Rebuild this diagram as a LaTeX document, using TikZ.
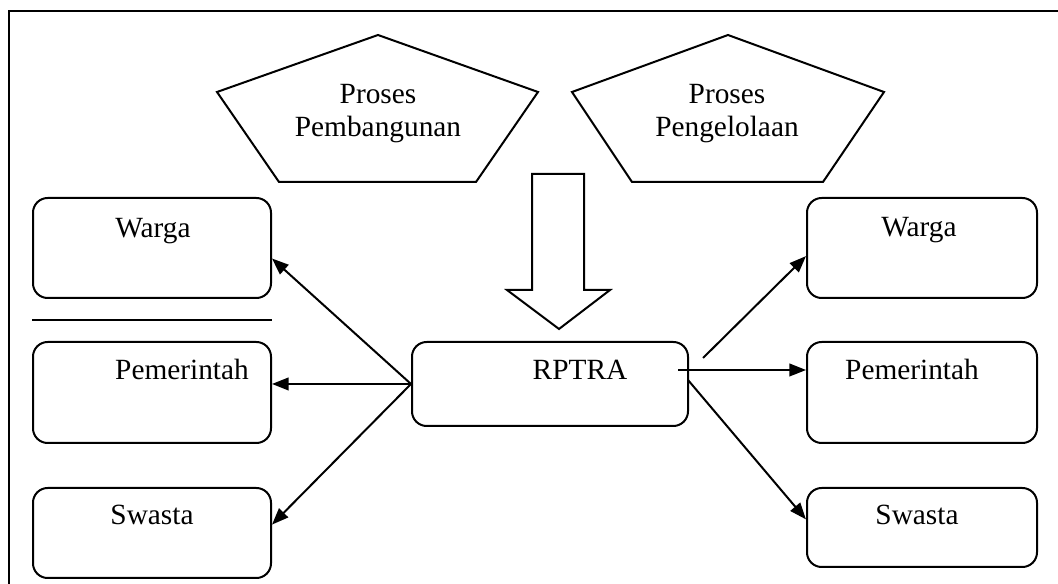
\documentclass[tikz,border=0pt]{standalone}
\usepackage{fontspec}
\setmainfont{Liberation Serif}
\usetikzlibrary{arrows.meta,positioning}
\newcommand{\lw}{1.5pt}
\newcommand{\txtsize}{\fontsize{22}{24.75}\selectfont}

\begin{document}
\begin{tikzpicture}[x = 0.75pt, y = -0.75pt,
    box/.style 2 args = {draw, line width = \lw, rounded corners = 11pt,
        minimum width = #1, minimum height = #2, inner sep = 0pt},
    lbl/.style = {font = \txtsize, inner sep = 0pt, anchor = base},
    link/.style = {line width = \lw, -{Triangle[length = 12.5pt, width = 9.5pt]}}]

    \useasboundingbox (0,0) rectangle (1058,584);

%frame
    \draw[line width = \lw] (9,584) -- (9,11) -- (1058,11);

%%%%        Pentagons
    \draw[line width = \lw] (217,92) -- (378,35) -- (538,92) -- (476,182) -- (279,182) -- cycle;
    \draw[line width = \lw] (572,92) -- (728,35) -- (884,92) -- (823,182) -- (632,182) -- cycle;
    \node (bangun) at (378,114) [font = \txtsize, align = center, inner sep = 0pt] {Proses\\Pembangunan};
    \node (kelola) at (727,114) [font = \txtsize, align = center, inner sep = 0pt] {Proses\\Pengelolaan};

%%%%        Hollow arrow
    \draw[line width = \lw] (532,174) -- (584,174) -- (584,290) -- (610,290)
        -- (559,329) -- (507,290) -- (532,290) -- cycle;

%%%%        Boxes
    \node[box = {207pt}{63pt}] (rptra) at (550,384) {};
%left
    \node[box = {178.5pt}{75pt}] (wl) at (152,248) {};
    \node[box = {178.5pt}{75.75pt}] (pl) at (152,392.5) {};
    \node[box = {178.5pt}{67.5pt}] (sl) at (152,533) {};
%right
    \node[box = {172.5pt}{75pt}] (wr) at (922,248) {};
    \node[box = {172.5pt}{75.75pt}] (pr) at (922,392.5) {};
    \node[box = {172.5pt}{59.25pt}] (sr) at (922,527.5) {};

    \draw[line width = \lw] (wl.south west |- 0,320) -- (wl.south east |- 0,320);

%%%%        Labels
    \node[lbl] (trptra) at (580,380) {RPTRA};
    \node[lbl] (twl) at (153,238) {Warga};
    \node[lbl] (tpl) at (182,380) {Pemerintah};
    \node[lbl] (tsl) at (152,525) {Swasta};
    \node[lbl] (twr) at (919,237) {Warga};
    \node[lbl] (tpr) at (912,380) {Pemerintah};
    \node[lbl] (tsr) at (917,525) {Swasta};

%%%%        Edges
    \coordinate (r0) at (703,358);
    \coordinate (r1) at (678,370);
    \coordinate (r2) at (688,380);

    \foreach\w in {wl.-5,pl.east |- rptra.west,sl.4}
    {
        \draw[link] (rptra.west) -- (\w);
    }
    \draw[link] (r0) -- (wr.184);
    \draw[link] (r1) -- (pr.west |- r1);
    \draw[link] (r2) -- (sr.176);
\end{tikzpicture}
\end{document}
